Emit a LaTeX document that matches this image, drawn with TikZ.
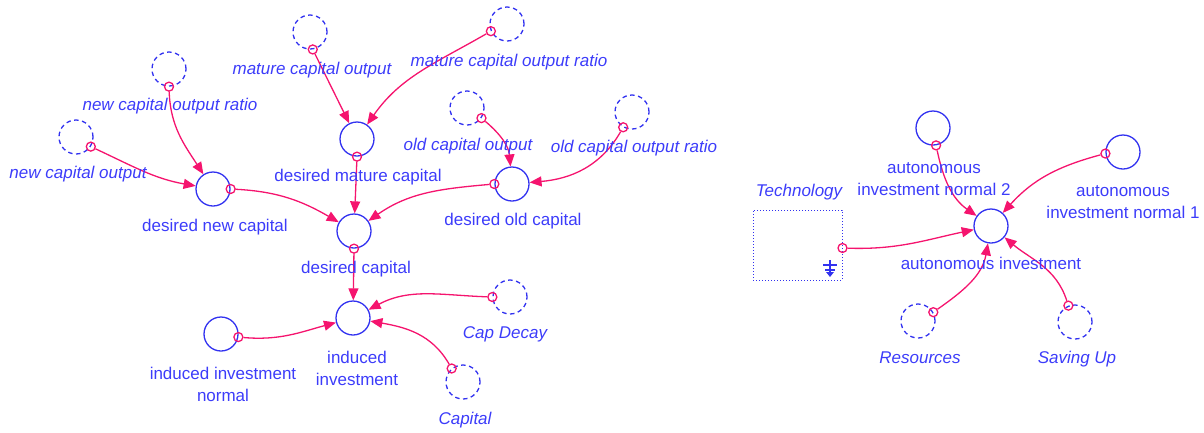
\documentclass[tikz,border=0pt]{standalone}
\usepackage{fontspec}
\setmainfont{Liberation Sans}
\usetikzlibrary{arrows.meta}
\definecolor{vblue}{RGB}{50,50,240}
\definecolor{tblue}{RGB}{60,60,250}
\definecolor{lpink}{RGB}{245,20,110}
\begin{document}
\begin{tikzpicture}[x=1pt,y=1pt,
 aux/.style={circle,draw=vblue,line width=1.3pt,minimum size=34pt,inner sep=0pt},
 ghost/.style={aux,dash pattern=on 4.5pt off 3.5pt},
 port/.style={circle,draw=lpink,line width=1.3pt,minimum size=9pt,inner sep=0pt},
 lbl/.style={text=tblue,font=\fontsize{17}{22}\selectfont,align=center,inner sep=0pt},
 ilbl/.style={text=tblue,font=\fontsize{17}{22}\selectfont\itshape,align=center,inner sep=0pt},
 link/.style={draw=lpink,line width=1.3pt,-{Triangle[length=12pt,width=10pt]}}
]
\useasboundingbox (0,0) rectangle (1204,-432);
% ---------- left group: circles ----------
\node[ghost] (nco) at (76,-137) {};
\node[ghost] (ncor) at (169,-69) {};
\node[ghost] (mco) at (310,-32) {};
\node[ghost] (mcor) at (507,-24) {};
\node[ghost] (oco) at (467,-108) {};
\node[ghost] (ocor) at (632,-112) {};
\node[aux] (dnc) at (213,-189) {};
\node[aux] (dmc) at (357,-139) {};
\node[aux] (doc) at (512,-184) {};
\node[aux] (dc) at (354,-231) {};
\node[aux] (ii) at (353,-318) {};
\node[aux] (iin) at (221,-334) {};
\node[ghost] (cd) at (510,-297) {};
\node[ghost] (cap) at (463,-382) {};
% ---------- right group ----------
\node[aux] (ain2) at (933,-128) {};
\node[aux] (ain1) at (1123,-152) {};
\node[aux] (ai) at (991,-226) {};
\node[draw=vblue,dotted,line width=1pt,minimum width=89pt,minimum height=70pt,inner sep=0pt] (tech) at (797.5,-245) {};
\node[ghost] (res) at (918,-321) {};
\node[ghost] (sav) at (1075,-322) {};
% technology symbol
\draw[vblue,line width=1.6pt] (830,-260) -- (830,-273) (823,-265) -- (837,-265) (825,-270) -- (835,-270);
\fill[vblue] (826,-272) -- (834,-272) -- (830,-277) -- cycle;
% ---------- ports ----------
\node[port] (p-nco) at (nco.-33) {};
\node[port] (p-ncor) at (ncor.-90) {};
\node[port] (p-mco) at (mco.-81) {};
\node[port] (p-mcor) at (mcor.-156) {};
\node[port] (p-oco) at (oco.-35) {};
\node[port] (p-ocor) at (ocor.-120) {};
\node[port] (p-dnc) at (dnc.0) {};
\node[port] (p-dmc) at (dmc.-90) {};
\node[port] (p-doc) at (doc.180) {};
\node[port] (p-dc) at (dc.-90) {};
\node[port] (p-iin) at (iin.-10) {};
\node[port] (p-cd) at (cd.180) {};
\node[port] (p-cap) at (cap.130) {};
\node[port] (p-ain2) at (ain2.-80) {};
\node[port] (p-ain1) at (ain1.185) {};
\node[port] (p-tech) at ([yshift=-3pt]tech.east) {};
\node[port] (p-res) at (res.30) {};
\node[port] (p-sav) at (sav.112) {};
% ---------- links ----------
\draw[link] (p-nco) to[out=-25,in=170] (dnc);
\draw[link] (p-ncor) to[out=-88,in=123] (dnc);
\draw[link] (p-mco) -- (dmc);
\draw[link] (p-mcor) to[out=-150,in=55] (dmc);
\draw[link] (p-dmc) -- (dc);
\draw[link] (p-dnc) to[out=-3,in=150] (dc);
\draw[link] (p-doc) to[out=185,in=35] (dc);
\draw[link] (p-oco) to[out=-40,in=95] (doc);
\draw[link] (p-ocor) to[out=-120,in=5] (doc);
\draw[link] (p-dc) -- (ii);
\draw[link] (p-iin) to[out=-5,in=195] (ii);
\draw[link] (p-cd) to[out=178,in=28] (ii);
\draw[link] (p-cap) to[out=120,in=-10] (ii);
\draw[link] (p-ain2) to[out=-78,in=145] (ai);
\draw[link] (p-ain1) to[out=195,in=48] (ai);
\draw[link] (p-tech) to[out=-2,in=192] (ai);
\draw[link] (p-res) to[out=35,in=-100] (ai);
\draw[link] (p-sav) to[out=108,in=-40] (ai);
% ---------- labels ----------
\node[ilbl] (l-nco) at (78,-174) {new capital output};
\node[ilbl] (l-ncor) at (170,-106) {new capital output ratio};
\node[ilbl] (l-mco) at (312,-70) {mature capital output};
\node[ilbl] (l-mcor) at (509,-62) {mature capital output ratio};
\node[ilbl] (l-oco) at (468,-146) {old capital output};
\node[ilbl] (l-ocor) at (634,-148) {old capital output ratio};
\node[lbl] (l-dnc) at (215,-227) {desired new capital};
\node[lbl] (l-dmc) at (358,-177) {desired mature capital};
\node[lbl] (l-doc) at (513,-221) {desired old capital};
\node[lbl] (l-dc) at (356,-269) {desired capital};
\node[lbl] (l-ii) at (357,-368) {induced\\investment};
\node[lbl] (l-iin) at (223,-384) {induced investment\\normal};
\node[ilbl] (l-cd) at (505,-334) {Cap Decay};
\node[ilbl] (l-cap) at (465,-420) {Capital};
\node[lbl] (l-ain2) at (934,-179) {autonomous\\investment normal 2};
\node[lbl] (l-ain1) at (1123,-202) {autonomous\\investment normal 1};
\node[lbl] (l-ai) at (991,-263) {autonomous investment};
\node[ilbl] (l-tech) at (799,-192) {Technology};
\node[ilbl] (l-res) at (920,-358) {Resources};
\node[ilbl] (l-sav) at (1077,-359) {Saving Up};
\end{tikzpicture}
\end{document}
